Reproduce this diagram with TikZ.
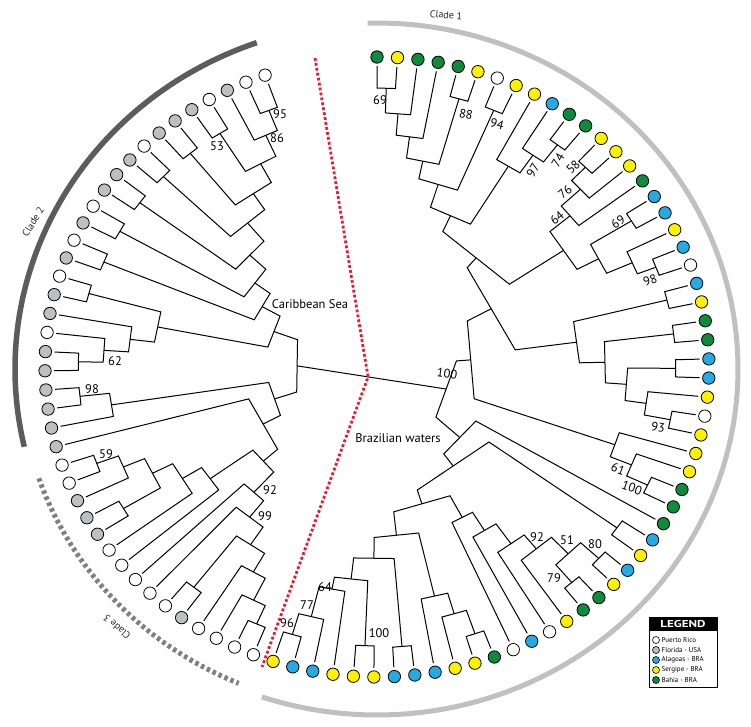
\documentclass[tikz,border=0pt]{standalone}
\usepackage{fontspec}
\setmainfont{PT Sans}
\usetikzlibrary{calc}
\definecolor{cgreen}{RGB}{16,138,60}
\definecolor{cyellow}{RGB}{255,240,0}
\definecolor{cblue}{RGB}{38,170,226}
\definecolor{cgrey}{RGB}{190,191,194}
\definecolor{cwhite}{RGB}{255,255,255}
\definecolor{cred}{RGB}{226,30,52}
\definecolor{arcA}{RGB}{192,192,196}
\definecolor{arcB}{RGB}{92,92,94}
\definecolor{arcC}{RGB}{128,128,130}
\newcommand\SetAng[2]{\expandafter\xdef\csname tAng-#1\endcsname{#2}}
\newcommand\GetAng[1]{\csname tAng-#1\endcsname}
\newcommand\PX[2]{377+332*(#2)*cos(#1)}
\newcommand\PY[2]{367-310*(#2)*sin(#1)}
\newcommand\TipR[2]{%
  \pgfmathsetmacro\tipang{90-3.54*#1}%
  \SetAng{R#1}{\tipang}%
  \node[tip, fill=#2] (R#1) at ({\PX{\tipang}{1}},{\PY{\tipang}{1}}) {};}
\newcommand\TipL[2]{%
  \pgfmathsetmacro\tipang{109.7+3.55*#1}%
  \SetAng{L#1}{\tipang}%
  \node[tip, fill=#2] (L#1) at ({\PX{\tipang}{1}},{\PY{\tipang}{1}}) {};}
\newcommand\Inner[4]{%
  \pgfmathsetmacro\angA{\GetAng{#2}}%
  \pgfmathsetmacro\angB{\GetAng{#3}}%
  \pgfmathsetmacro\angM{(\angA+\angB)/2}%
  \pgfmathsetmacro\radM{#4*cos((\angB-\angA)/2)}%
  \SetAng{#1}{\angM}%
  \coordinate (#1) at ({\PX{\angM}{\radM}},{\PY{\angM}{\radM}});
  \draw[branch] (#2) -- ({\PX{\angA}{#4}},{\PY{\angA}{#4}}) -- ({\PX{\angB}{#4}},{\PY{\angB}{#4}}) -- (#3);}
\begin{document}
\begin{tikzpicture}[x=1pt,y=-1pt,
  tip/.style={circle, draw=black, line width=0.8pt, minimum size=12.4pt, inner sep=0pt, outer sep=3pt},
  branch/.style={draw=black, line width=1pt, line join=miter},
  lab/.style={font=\fontsize{12.5}{12.5}\selectfont, inner sep=0pt},
  regiontxt/.style={font=\fontsize{12.5}{12.5}\selectfont, inner sep=0pt},
  cladetxt/.style={font=\fontsize{10}{10}\selectfont, inner sep=0pt, text=black!85},
  legdot/.style={circle, draw=black, line width=0.6pt, minimum size=7pt, inner sep=0pt},
  legtxt/.style={anchor=west, font=\fontsize{7}{7}\selectfont, inner sep=0pt}]
\useasboundingbox (0,0) rectangle (751,726);
\fill[white] (0,0) rectangle (751,726);
% clade arcs
\draw[arcA, line width=5pt] plot[domain=91.5:-108.6, samples=150] ({377+361*cos(\x)},{369-346*sin(\x)});
\draw[arcB, line width=5.5pt] plot[domain=109.4:193, samples=100] ({377+362*cos(\x)},{369-346*sin(\x)});
\draw[arcC, line width=5pt, dash pattern=on 3.5pt off 3pt] plot[domain=198.7:247.2, samples=100] ({377+357*cos(\x)},{369-341*sin(\x)});
\node[cladetxt, rotate=-5] (c1) at (446,15) {Clade 1};
\node[cladetxt, rotate=58] (c2) at (33,222) {Clade 2};
\node[cladetxt, rotate=139] (c3) at (117,627) {Clade 3};
% tips
\foreach \i/\c in {0/cgreen,1/cyellow,2/cgreen,3/cgreen,4/cgreen,5/cyellow,6/cwhite,7/cyellow,8/cyellow,9/cblue,10/cgreen,11/cgreen,12/cyellow,13/cyellow,14/cyellow,15/cgreen,16/cblue,17/cblue,18/cyellow,19/cblue,20/cwhite,21/cblue,22/cyellow,23/cgreen,24/cgreen,25/cblue,26/cblue,27/cyellow,28/cwhite,29/cyellow,30/cyellow,31/cyellow,32/cgreen,33/cgreen,34/cgreen,35/cblue,36/cyellow,37/cblue,38/cyellow,39/cgreen,40/cgreen,41/cyellow,42/cwhite,43/cblue,44/cwhite,45/cgreen,46/cyellow,47/cyellow,48/cblue,49/cblue,50/cblue,51/cyellow,52/cyellow,53/cyellow,54/cblue,55/cblue,56/cyellow}{\TipR{\i}{\c}}
\foreach \i/\c in {0/cwhite,1/cwhite,2/cgrey,3/cwhite,4/cgrey,5/cgrey,6/cgrey,7/cwhite,8/cgrey,9/cgrey,10/cgrey,11/cwhite,12/cgrey,13/cwhite,14/cgrey,15/cwhite,16/cgrey,17/cgrey,18/cwhite,19/cgrey,20/cgrey,21/cgrey,22/cgrey,23/cgrey,24/cgrey,25/cwhite,26/cwhite,27/cgrey,28/cgrey,29/cgrey,30/cwhite,31/cwhite,32/cwhite,33/cwhite,34/cwhite,35/cgrey,36/cwhite,37/cwhite,38/cwhite,39/cwhite}{\TipL{\i}{\c}}
% right clade, upper part
\Inner{n69}{R0}{R1}{0.9}
\Inner{nA}{n69}{R2}{0.82}
\Inner{nB}{nA}{R3}{0.75}
\Inner{n88}{R4}{R5}{0.9}
\Inner{nC}{nB}{n88}{0.68}
\Inner{n94}{R6}{R7}{0.9}
\Inner{nD}{nC}{n94}{0.62}
\Inner{n74}{R10}{R11}{0.9}
\Inner{n97}{R9}{n74}{0.83}
\Inner{nE}{R8}{n97}{0.76}
\Inner{nF}{nD}{nE}{0.54}
\Inner{N58}{R12}{R13}{0.9}
\Inner{N76}{N58}{R14}{0.84}
\Inner{N64}{N76}{R15}{0.76}
\Inner{N69b}{R16}{R17}{0.9}
\Inner{N98}{R19}{R20}{0.9}
\Inner{N1898}{R18}{N98}{0.84}
\Inner{Nb}{N69b}{N1898}{0.755}
\Inner{Nc}{N64}{Nb}{0.68}
\Inner{nG}{nF}{Nc}{0.48}
\Inner{P2122}{R21}{R22}{0.9}
\Inner{P2324}{R23}{R24}{0.9}
\Inner{P2526}{R25}{R26}{0.9}
\Inner{N93}{R28}{R29}{0.9}
\Inner{N2793}{R27}{N93}{0.82}
\Inner{N2527}{P2526}{N2793}{0.755}
\Inner{Ne}{P2324}{N2527}{0.69}
\Inner{Nd}{P2122}{Ne}{0.61}
\Inner{nH}{nG}{Nd}{0.42}
\Inner{N100b}{R32}{R33}{0.9}
\Inner{N61}{R31}{N100b}{0.83}
\Inner{N61a}{R30}{N61}{0.76}
\Inner{BRa}{nH}{N61a}{0.31}
% right clade, lower part
\Inner{N80}{R37}{R38}{0.91}
\Inner{N79}{R39}{R40}{0.91}
\Inner{N51}{N80}{N79}{0.835}
\Inner{N92}{N51}{R41}{0.76}
\Inner{Nq1}{N92}{R42}{0.7}
\Inner{Nq2}{Nq1}{R43}{0.62}
\Inner{Nq3}{Nq2}{R44}{0.55}
\Inner{N45}{R45}{R46}{0.91}
\Inner{Ns1}{N45}{R47}{0.83}
\Inner{Ns2}{Ns1}{R48}{0.76}
\Inner{Nw}{R49}{R50}{0.905}
\Inner{P5152}{R51}{R52}{0.9}
\Inner{N96}{R55}{R56}{0.9}
\Inner{N77}{R54}{N96}{0.83}
\Inner{N64b}{R53}{N77}{0.73}
\Inner{Nv}{P5152}{N64b}{0.69}
\Inner{Nu}{Nw}{Nv}{0.62}
\Inner{Nt}{Ns2}{Nu}{0.55}
\Inner{BG}{Nq3}{Nt}{0.47}
\Inner{P3536}{R35}{R36}{0.89}
\Inner{BRc}{P3536}{BG}{0.415}
\Inner{BRb}{R34}{BRc}{0.345}
\Inner{BR}{BRa}{BRb}{0.24}
% left clades
\Inner{P95}{L0}{L1}{0.89}
\Inner{P86}{P95}{L2}{0.82}
\Inner{P53}{L3}{L4}{0.89}
\Inner{Q1}{P86}{P53}{0.745}
\Inner{P56}{L5}{L6}{0.89}
\Inner{Q2}{Q1}{P56}{0.675}
\Inner{P78}{L7}{L8}{0.89}
\Inner{Q3}{Q2}{P78}{0.61}
\Inner{P910}{L9}{L10}{0.89}
\Inner{Q4}{Q3}{P910}{0.53}
\Inner{P1112}{L11}{L12}{0.89}
\Inner{Q5}{Q4}{P1112}{0.46}
\Inner{P1314}{L13}{L14}{0.89}
\Inner{Q6}{Q5}{P1314}{0.40}
\Inner{P1516}{L15}{L16}{0.9}
\Inner{X}{L19}{L20}{0.9}
\Inner{W62}{L18}{X}{0.825}
\Inner{V}{L17}{W62}{0.75}
\Inner{U2}{P1516}{V}{0.675}
\Inner{U}{Q6}{U2}{0.335}
\Inner{N98L}{L21}{L22}{0.9}
\Inner{D1}{N98L}{L23}{0.81}
\Inner{N59}{L25}{L26}{0.9}
\Inner{Y1}{N59}{L27}{0.83}
\Inner{P2829}{L28}{L29}{0.89}
\Inner{Y2}{Y1}{P2829}{0.76}
\Inner{Y3}{Y2}{L30}{0.69}
\Inner{Y4}{Y3}{L31}{0.62}
\Inner{P3435}{L34}{L35}{0.9}
\Inner{Z4}{L38}{L39}{0.905}
\Inner{Z3}{L37}{Z4}{0.84}
\Inner{Z2}{L36}{Z3}{0.76}
\Inner{Z1}{P3435}{Z2}{0.69}
\Inner{N99L}{L33}{Z1}{0.62}
\Inner{N92L}{L32}{N99L}{0.55}
\Inner{D3}{Y4}{N92L}{0.46}
\Inner{D2}{L24}{D3}{0.40}
\Inner{D}{D1}{D2}{0.33}
\Inner{CR}{U}{D}{0.255}
% root
\draw[branch] (CR) -- (BR);
\coordinate (J) at ($(CR)!0.476!(BR)$);
\coordinate (redtop) at (315,58);
\coordinate (redbot) at (262,667);
\draw[cred, line width=2.8pt, dash pattern=on 2.8pt off 2.2pt] (redtop) -- (J) -- (redbot);
% region labels
\node[regiontxt] (carib) at (310,304) {Caribbean Sea};
\node[regiontxt] (braz) at (398,438) {Brazilian waters};
% support values
\node[lab] at (380,100) {69};
\node[lab, rotate=-10] at (466,114) {88};
\node[lab, rotate=-15] at (497,124) {94};
\node[lab, rotate=60] at (533,170) {97};
\node[lab, rotate=60] at (558,160) {74};
\node[lab, rotate=45] at (573,167) {58};
\node[lab, rotate=40] at (565,192) {76};
\node[lab, rotate=40] at (557,218) {64};
\node[lab, rotate=35] at (618,222) {69};
\node[lab, rotate=20] at (650,280) {98};
\node[lab, rotate=-10] at (658,427) {93};
\node[lab, rotate=-20] at (618,469) {61};
\node[lab, rotate=-20] at (632,488) {100};
\node[lab, rotate=-8] at (447,374) {100};
\node[lab] at (537,537) {92};
\node[lab] at (567,540) {51};
\node[lab] at (595,544) {80};
\node[lab] at (554,578) {79};
\node[lab] at (325,587) {64};
\node[lab] at (307,605) {77};
\node[lab] at (287,623) {96};
\node[lab] at (379,633) {100};
\node[lab] at (280,114) {95};
\node[lab] at (277,138) {86};
\node[lab] at (217,146) {53};
\node[lab] at (115,361) {62};
\node[lab] at (92,389) {98};
\node[lab] at (106,454) {59};
\node[lab] at (270,490) {92};
\node[lab] at (265,516) {99};
% legend
\draw[fill=white, line width=0.8pt] (649,617) rectangle (717,687);
\fill[black] (649,617) rectangle (717,631);
\node[text=white, font=\bfseries\fontsize{10}{10}\selectfont, xscale=1.3, inner sep=0pt] (legt) at (683,624) {LEGEND};
\node[legdot, fill=cwhite] (k1) at (656,640) {};
\node[legdot, fill=cgrey] (k2) at (656,650) {};
\node[legdot, fill=cblue] (k3) at (656,660) {};
\node[legdot, fill=cyellow] (k4) at (656,670) {};
\node[legdot, fill=cgreen] (k5) at (656,680) {};
\node[legtxt] at (661.5,640) {Puerto Rico};
\node[legtxt] at (661.5,650) {Florida - USA};
\node[legtxt] at (661.5,660) {Alagoas - BRA};
\node[legtxt] at (661.5,670) {Sergipe - BRA};
\node[legtxt] at (661.5,680) {Bahia - BRA};
\end{tikzpicture}
\end{document}
